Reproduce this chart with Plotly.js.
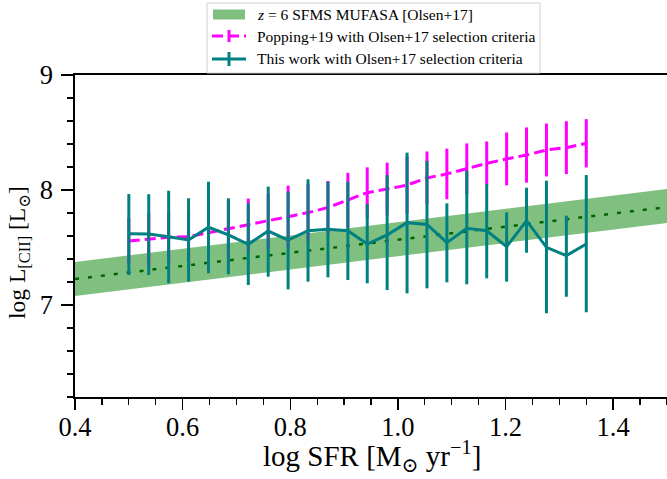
<!DOCTYPE html>
<html><head><meta charset="utf-8">
<script src="https://cdn.plot.ly/plotly-3.0.1.min.js"></script>
<style>html,body{margin:0;padding:0;background:#fff}#chart{width:667px;height:479px}</style>
</head><body><div id="chart"></div>
<script>
// log SFR bin centres (shared by both series)
const sfr = [0.500, 0.537, 0.574, 0.611, 0.648, 0.685, 0.722, 0.759, 0.796, 0.833, 0.870, 0.907,
             0.943, 0.980, 1.017, 1.054, 1.091, 1.128, 1.165, 1.202, 1.239, 1.276, 1.313, 1.350];
// This work (teal): centre, upper and lower ends of error bars
const thisY  = [7.620, 7.617, 7.594, 7.565, 7.676, 7.609, 7.528, 7.643, 7.565, 7.646, 7.658, 7.646,
                7.530, 7.609, 7.716, 7.701, 7.542, 7.667, 7.646, 7.507, 7.733, 7.501, 7.429, 7.530];
const thisHi = [7.965, 7.963, 7.994, 7.928, 8.072, 7.928, 7.884, 8.029, 7.986, 8.093, 8.072, 8.072,
                7.878, 8.130, 8.325, 8.252, 7.884, 8.168, 8.052, 7.806, 8.020, 8.081, 7.777, 8.130];
const thisLo = [7.261, 7.261, 7.189, 7.203, 7.276, 7.267, 7.174, 7.246, 7.136, 7.203, 7.241, 7.217,
                7.189, 7.130, 7.101, 7.145, 7.197, 7.180, 7.232, 7.203, 7.455, 6.928, 7.072, 6.937];
// Popping+19 (magenta): centre and error half-size
const popY   = [7.557, 7.571, 7.589, 7.594, 7.629, 7.661, 7.696, 7.728, 7.768, 7.803, 7.848, 7.910,
                7.977, 8.008, 8.043, 8.105, 8.140, 8.185, 8.232, 8.270, 8.304, 8.348, 8.368, 8.406];
const popErr = [0.20, 0.23, 0.23, 0.23, 0.24, 0.25, 0.23, 0.24, 0.27, 0.25, 0.23, 0.24,
                0.22, 0.23, 0.25, 0.23, 0.22, 0.22, 0.19, 0.23, 0.24, 0.23, 0.23, 0.21];
// z=6 SFMS MUFASA band (Olsen+17)
const sfmsX   = [0.4, 1.5];
const sfmsMid = [7.226, 7.852];
const sfmsLo  = [7.078, 7.713];
const sfmsHi  = [7.374, 8.009];
// text
const legendLabels = ['<i>z</i> = 6 SFMS MUFASA [Olsen+17]',
                      'Popping+19 with Olsen+17 selection criteria',
                      'This work with Olsen+17 selection criteria'];
const xTitle = 'log SFR [M<sub>⊙</sub> yr<sup>−1</sup>]';
const yTitle = 'log L<sub>[CII]</sub> [L<sub>⊙</sub>]';

const TEAL = '#008080', MAG = '#ff00ff', BAND = 'rgba(0,128,0,0.5)', DG = '#006400';
const FONT = 'Liberation Serif, Times New Roman, DejaVu Serif, serif';

const traces = [
  {x: sfmsX, y: sfmsLo, mode: 'lines', line: {width: 0}, hoverinfo: 'skip', showlegend: false},
  {x: sfmsX, y: sfmsHi, mode: 'lines', line: {width: 0}, fill: 'tonexty', fillcolor: BAND, showlegend: false},
  {x: sfmsX, y: sfmsMid, mode: 'lines', line: {color: DG, width: 2.5, dash: '4px,9px'}, showlegend: false},
  {x: sfr, y: popY, mode: 'lines', line: {color: MAG, width: 3, dash: '11px,5px'},
   error_y: {type: 'data', array: popErr, color: MAG, thickness: 3, width: 0}, showlegend: false},
  {x: sfr, y: thisY, mode: 'lines', line: {color: TEAL, width: 3},
   error_y: {type: 'data', symmetric: false,
             array: thisHi.map((h, i) => h - thisY[i]),
             arrayminus: thisLo.map((l, i) => thisY[i] - l),
             color: TEAL, thickness: 3, width: 0}, showlegend: false}
];

const L = 75, R = 667, T = 75, B = 397;
const px = v => (v - L) / (R - L);
const py = v => (B - v) / (B - T);

const shapes = [
  {type: 'rect', xref: 'paper', yref: 'paper', x0: px(207), x1: px(540), y0: py(73), y1: py(3),
   line: {color: '#d0d0d0', width: 1}, fillcolor: 'rgba(255,255,255,0.85)', layer: 'above'},
  {type: 'rect', xref: 'paper', yref: 'paper', x0: px(213), x1: px(245), y0: py(19.5), y1: py(9.5),
   line: {width: 0}, fillcolor: BAND, layer: 'above'},
  {type: 'line', xref: 'paper', yref: 'paper', x0: px(212), x1: px(246), y0: py(36), y1: py(36),
   line: {color: MAG, width: 3, dash: '11px,5px'}, layer: 'above'},
  {type: 'line', xref: 'paper', yref: 'paper', x0: px(229), x1: px(229), y0: py(30), y1: py(42),
   line: {color: MAG, width: 3}, layer: 'above'},
  {type: 'line', xref: 'paper', yref: 'paper', x0: px(212), x1: px(246), y0: py(59), y1: py(59),
   line: {color: TEAL, width: 3}, layer: 'above'},
  {type: 'line', xref: 'paper', yref: 'paper', x0: px(229), x1: px(229), y0: py(52), y1: py(66),
   line: {color: TEAL, width: 3}, layer: 'above'}
];
const rowsY = [14.5, 36.5, 59];
const annotations = legendLabels.map((t, i) => ({
  text: t, xref: 'paper', yref: 'paper', x: px(255), y: py(rowsY[i]),
  xanchor: 'left', yanchor: 'middle', showarrow: false,
  font: {family: FONT, size: 15.5, color: '#000'}
}));
annotations.push({
  text: yTitle, textangle: -90, xref: 'paper', yref: 'paper', x: px(19), y: py(253),
  xanchor: 'center', yanchor: 'middle', showarrow: false,
  font: {family: FONT, size: 23.5, color: '#000'}
});
annotations.push({
  text: xTitle, xref: 'paper', yref: 'paper', x: px(372), y: py(456),
  xanchor: 'center', yanchor: 'middle', showarrow: false,
  font: {family: FONT, size: 29, color: '#000'}
});

const layout = {
  width: 667, height: 479,
  margin: {l: L, r: 0, t: T, b: 479 - B},
  paper_bgcolor: '#fff', plot_bgcolor: '#fff',
  font: {family: FONT, color: '#000'},
  showlegend: false,
  xaxis: {
    range: [0.4, 1.5], tick0: 0.4, dtick: 0.2, tickformat: '.1f',
    ticks: 'outside', ticklen: 11, tickwidth: 1.5, tickcolor: '#000', ticklabelstandoff: -6,
    minor: {dtick: 0.05, tick0: 0.4, ticks: 'outside', ticklen: 6, tickwidth: 1.2, tickcolor: '#000', showgrid: false},
    showline: true, linecolor: '#000', linewidth: 1.8, mirror: true,
    showgrid: false, zeroline: false,
    tickfont: {family: FONT, size: 26.5}
  },
  yaxis: {
    range: [6.2, 9], tick0: 0, dtick: 1,
    ticks: 'outside', ticklen: 12, tickwidth: 1.5, tickcolor: '#000', ticklabelstandoff: 3,
    minor: {dtick: 0.2, tick0: 0, ticks: 'outside', ticklen: 6, tickwidth: 1.2, tickcolor: '#000', showgrid: false},
    showline: true, linecolor: '#000', linewidth: 1.8,
    showgrid: false, zeroline: false,
    tickfont: {family: FONT, size: 26.5}
  },
  shapes: shapes,
  annotations: annotations
};

Plotly.newPlot('chart', traces, layout, {displayModeBar: false, staticPlot: true});
</script>
</body></html>
